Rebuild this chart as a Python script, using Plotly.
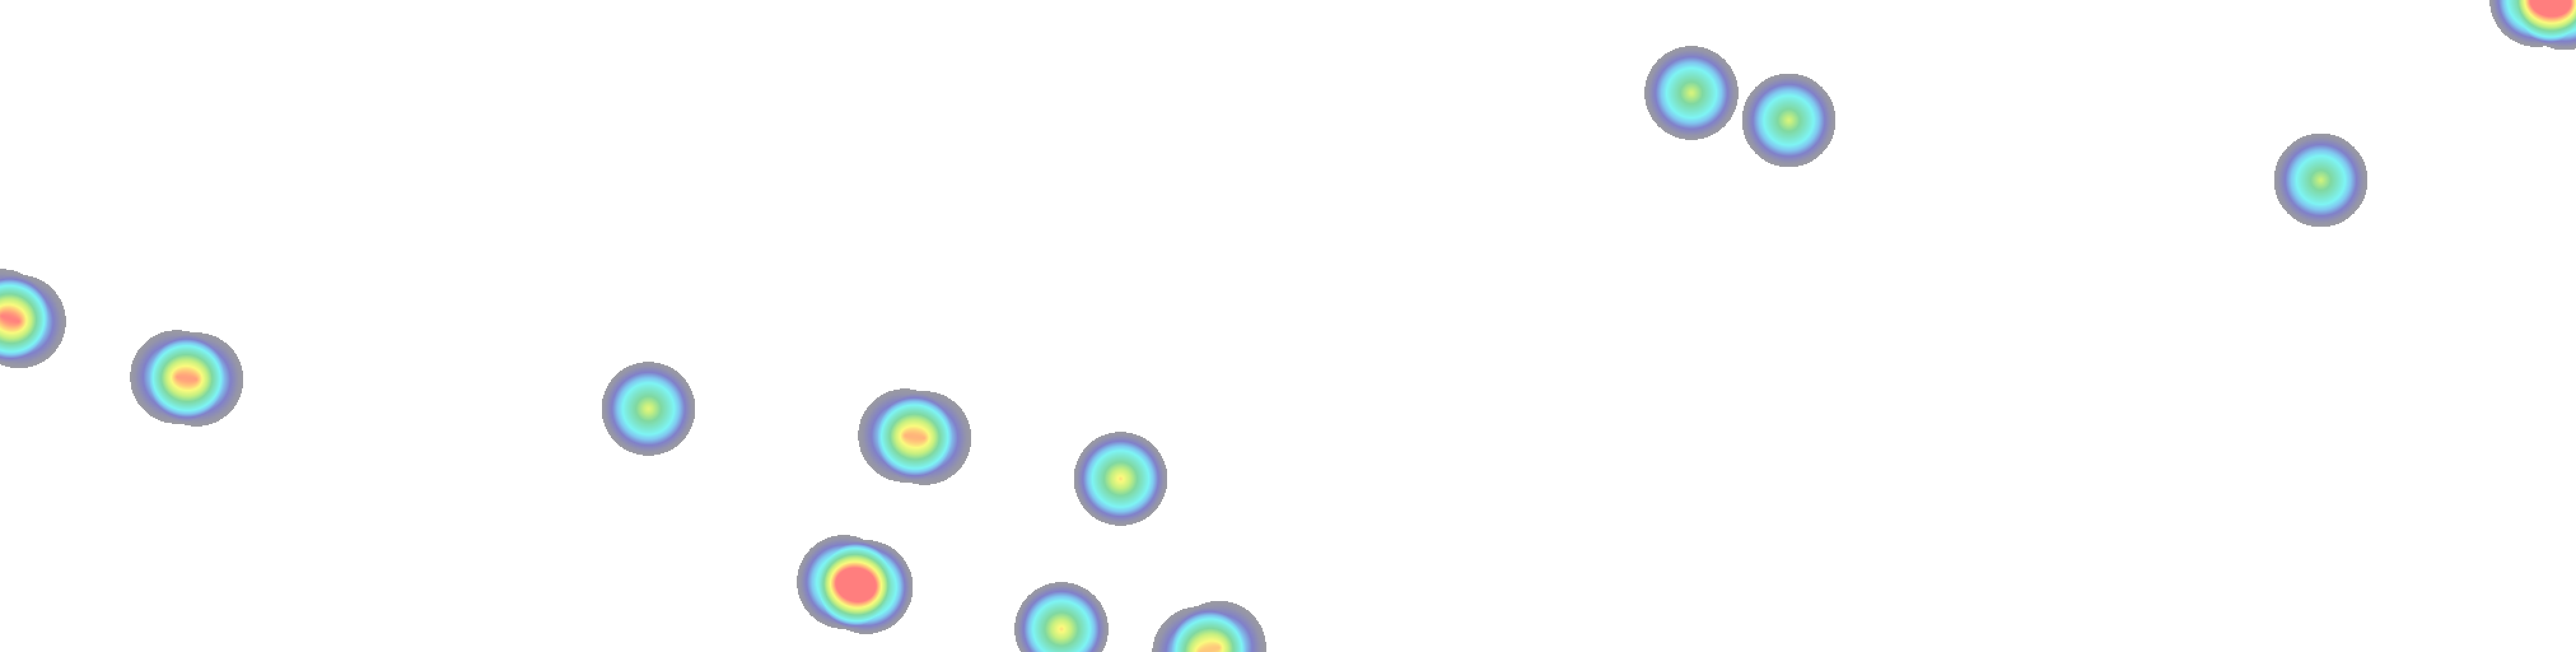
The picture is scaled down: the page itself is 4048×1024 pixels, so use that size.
import numpy as np
import plotly.graph_objects as go

# Heat points (screen-space positions and weights)
point_x = [2, 30, 278, 309, 1019, 1422, 1453, 1761, 1326, 1361, 1668, 1884, 1916,
           2658, 2811, 3647, 3986, 4030]
point_y = [496, 505, 592, 596, 642, 684, 688, 752, 914, 922, 988, 1026, 1017,
           146, 189, 283, 0, 5]
point_value = [0.62, 0.62, 0.60, 0.60, 0.75, 0.58, 0.58, 0.85, 0.80, 0.95, 0.85, 0.57, 0.57,
               0.72, 0.72, 0.70, 0.88, 0.88]

W, H = 4048, 1024
RADIUS = 74
STEP = 2

xs = np.arange(STEP / 2, W, STEP)
ys = np.arange(STEP / 2, H, STEP)
GX, GY = np.meshgrid(xs, ys)
dens = np.zeros_like(GX, dtype=float)
for px, py, v in zip(point_x, point_y, point_value):
    d = np.hypot(GX - px, GY - py)
    k = np.clip(1 - d / RADIUS, 0, None)
    dens += v * k
z = np.clip(dens, 0, 1).astype(np.float32)
z[dens <= 0.004] = np.nan

colorscale = [
    [0.00, "rgb(155,155,160)"],
    [0.07, "rgb(148,148,170)"],
    [0.17, "rgb(128,128,202)"],
    [0.26, "rgb(128,200,240)"],
    [0.34, "rgb(126,244,244)"],
    [0.45, "rgb(126,228,200)"],
    [0.55, "rgb(128,216,160)"],
    [0.68, "rgb(200,240,128)"],
    [0.80, "rgb(250,250,126)"],
    [0.90, "rgb(255,190,122)"],
    [1.00, "rgb(255,126,126)"],
]

fig = go.Figure(go.Heatmap(
    x=xs, y=ys, z=z, zmin=0, zmax=1,
    colorscale=colorscale, showscale=False, hoverinfo="skip",
))
fig.update_layout(
    width=W, height=H,
    margin=dict(l=0, r=0, t=0, b=0),
    paper_bgcolor="white", plot_bgcolor="white",
    xaxis=dict(range=[0, W], visible=False, fixedrange=True),
    yaxis=dict(range=[H, 0], visible=False, fixedrange=True),
    showlegend=False,
)
fig.write_html(
    "out.html",
    config={"displayModeBar": False},
    post_script="document.body.style.margin='0';document.body.style.overflow='hidden';",
)
